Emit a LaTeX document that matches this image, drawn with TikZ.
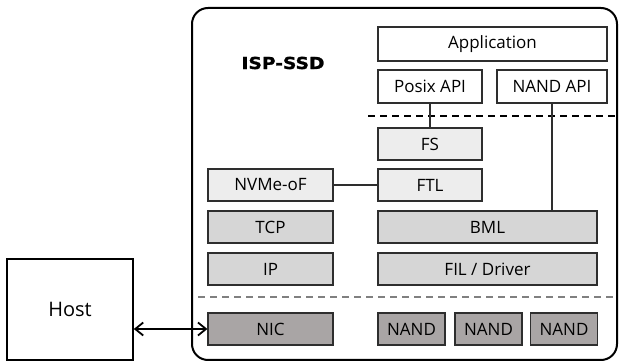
\documentclass[tikz,border=0pt]{standalone}
\usepackage{fontspec}
\setmainfont{Open Sans}
\newfontfamily\headfont{DejaVu Sans}[FakeStretch=1.13,BoldFeatures={FakeBold=1.2}]
\usetikzlibrary{arrows,arrows.meta,positioning,calc}

\definecolor{lightbox}{HTML}{EDEDED}
\definecolor{midbox}{HTML}{D6D6D6}
\definecolor{darkbox}{HTML}{A9A5A5}
\definecolor{edge}{HTML}{2E2E2E}

\tikzset{
  layer/.style={draw=edge,line width=1.2pt,minimum height=32pt,inner sep=0pt,
    font=\fontsize{17}{19}\selectfont},
  light/.style={layer,fill=lightbox},
  mid/.style={layer,fill=midbox},
  dark/.style={layer,fill=darkbox},
  plain/.style={layer,fill=white},
  link/.style={draw=edge,line width=1.2pt},
  barb/.tip={Straight Barb[length=8pt,width=13pt]}
}

\begin{document}
\begin{tikzpicture}[x=1pt,y=-1pt]
    \useasboundingbox (0,0) rectangle (619,363);

    % device outline
    \draw[line width=2pt,rounded corners=16pt] (192,8) rectangle (617,360);
    \node[font=\headfont\bfseries\fontsize{16.5}{19}\selectfont] at (283,63) (title) {ISP-SSD};

    % host side
    \node[plain,minimum width=126pt,minimum height=101pt,line width=1.6pt,draw=black,
      font=\fontsize{20}{22}\selectfont] at (70,309.5) (host) {Host};

    % software stack
    \node[plain,minimum width=229pt,minimum height=34pt] at (492.5,44) (app) {Application};
    \node[plain,minimum width=104pt,minimum height=33pt] at (430,86.5) (posix) {Posix API};
    \node[plain,minimum width=110pt,minimum height=33pt] at (552,86.5) (nandapi) {NAND API};
    \node[light,minimum width=104pt] at (430,144) (fs) {FS};
    \node[light,minimum width=104pt] at (430,185) (ftl) {FTL};
    \node[light,minimum width=125pt] at (270.5,185) (nvme) {NVMe-oF};
    \node[mid,minimum width=125pt] at (270.5,227) (tcp) {TCP};
    \node[mid,minimum width=125pt] at (270.5,269) (ip) {IP};
    \node[mid,minimum width=219pt] at (487.5,227) (bml) {BML};
    \node[mid,minimum width=219pt] at (487.5,269) (fil) {FIL / Driver};

    % hardware
    \node[dark,minimum width=125pt] at (270.5,329) (nic) {NIC};
    \foreach \i/\x in {1/411.5,2/488.5,3/564} {
      \node[dark,minimum width=67pt] at (\x,329) (nand\i) {NAND};
    }

    % separators
    \draw[dashed,line width=1.2pt,dash pattern=on 7pt off 5pt] (368,116) -- (617,116);
    \draw[dashed,line width=1.2pt,draw=gray,dash pattern=on 7pt off 5pt] (198,297) -- (617,297);

    % connections
    \draw[link] (posix) -- (fs);
    \draw[link] (nandapi.south) -- (nandapi.south |- bml.north);
    \draw[link] (nvme) -- (ftl);
    \draw[barb-barb,line width=1.8pt] (host.east |- nic) -- (nic.west);
\end{tikzpicture}
\end{document}
